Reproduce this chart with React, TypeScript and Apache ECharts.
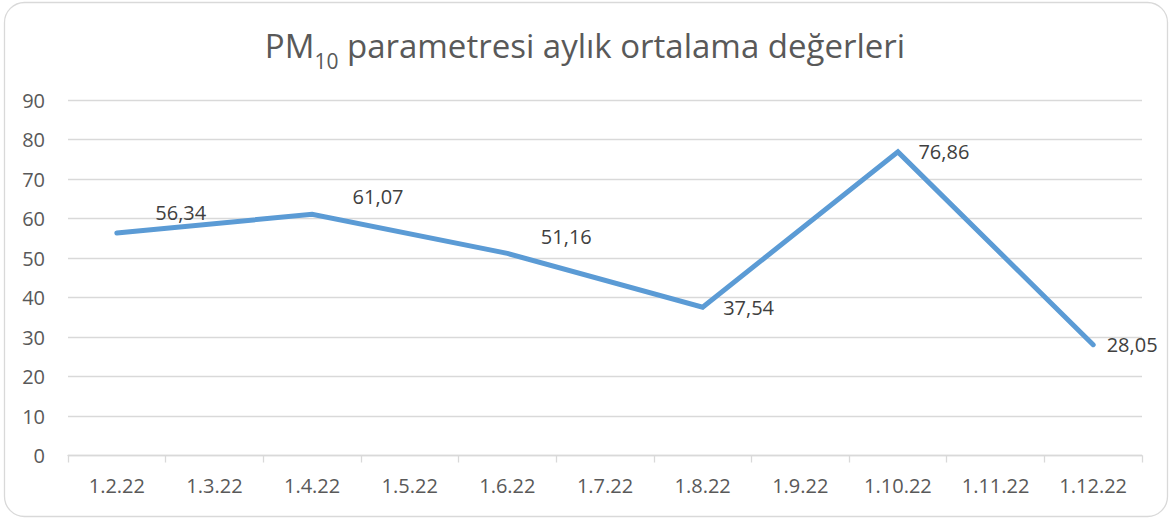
import React, { useEffect, useRef } from "react";
import * as echarts from "echarts";

const categories = ["1.2.22", "1.3.22", "1.4.22", "1.5.22", "1.6.22", "1.7.22", "1.8.22", "1.9.22", "1.10.22", "1.11.22", "1.12.22"];
const pm10Values: (number | null)[] = [56.34, null, 61.07, null, 51.16, null, 37.54, null, 76.86, null, 28.05];
const yTicks = { min: 0, max: 90, interval: 10 };

// label placement tweaks (style only)
const labelOffsets: Record<number, [number, number]> = {
  0: [33, -20],
  2: [35, -18],
  4: [28, -17],
  6: [15, 0],
  8: [15, 0],
  10: [8, 0],
};

const FONT = "'Open Sans', 'Noto Sans', sans-serif";

export default function App() {
  const ref = useRef<HTMLDivElement>(null);
  useEffect(() => {
    if (!ref.current) return;
    const chart = echarts.init(ref.current, undefined, { renderer: "svg" });
    const seriesData = pm10Values.map((v, i) =>
      v === null
        ? null
        : {
            value: v,
            label: { offset: labelOffsets[i] || [0, 0] },
          }
    );
    chart.setOption({
      animation: false,
      backgroundColor: "#ffffff",
      textStyle: { fontFamily: FONT },
      title: {
        text: "{a|PM}{s|10}{a| parametresi aylık ortalama değerleri}",
        left: "center",
        top: 15,
        textStyle: {
          fontWeight: "normal",
          rich: {
            a: { fontSize: 33, fontWeight: "normal", color: "#595959", fontFamily: FONT, verticalAlign: "bottom", lineHeight: 42 },
            s: { fontSize: 21, fontWeight: "normal", color: "#595959", fontFamily: FONT, verticalAlign: "bottom", padding: [0, 0, -9, 0], lineHeight: 42 },
          },
        },
      },
      graphic: [
        {
          type: "rect",
          shape: { x: 4.5, y: 2.5, width: 1163, height: 514, r: 20 },
          style: { fill: "none", stroke: "#d9d9d9", lineWidth: 1.3 },
          silent: true,
        },
      ],
      grid: { left: 68, right: 28, top: 100, bottom: 64.5 },
      xAxis: {
        type: "category",
        data: categories,
        boundaryGap: true,
        axisLine: { lineStyle: { color: "#d9d9d9", width: 1.3 } },
        axisTick: { show: true, length: 7, lineStyle: { color: "#d9d9d9", width: 1.3 } },
        axisLabel: { color: "#595959", fontSize: 20, margin: 20, fontFamily: FONT },
      },
      yAxis: {
        type: "value",
        min: yTicks.min,
        max: yTicks.max,
        interval: yTicks.interval,
        axisLine: { show: false },
        axisTick: { show: false },
        axisLabel: { color: "#595959", fontSize: 20, margin: 23, fontFamily: FONT },
        splitLine: { lineStyle: { color: "#d9d9d9", width: 1.3 } },
      },
      series: [
        {
          type: "line",
          data: seriesData,
          connectNulls: true,
          symbol: "circle",
          symbolSize: 1,
          showSymbol: true,
          itemStyle: { color: "#5b9bd5" },
          lineStyle: { color: "#5b9bd5", width: 5, cap: "round", join: "miter" },
          label: {
            show: true,
            position: "right",
            distance: 5,
            color: "#404040",
            fontSize: 20,
            fontFamily: FONT,
            formatter: (p: any) => Number(p.value).toFixed(2).replace(".", ","),
          },
        },
      ],
    });
    return () => chart.dispose();
  }, []);
  return (
    <div
      ref={ref}
      style={{ position: "fixed", left: 0, top: 0, width: 1170, height: 520, background: "#fff" }}
    />
  );
}
